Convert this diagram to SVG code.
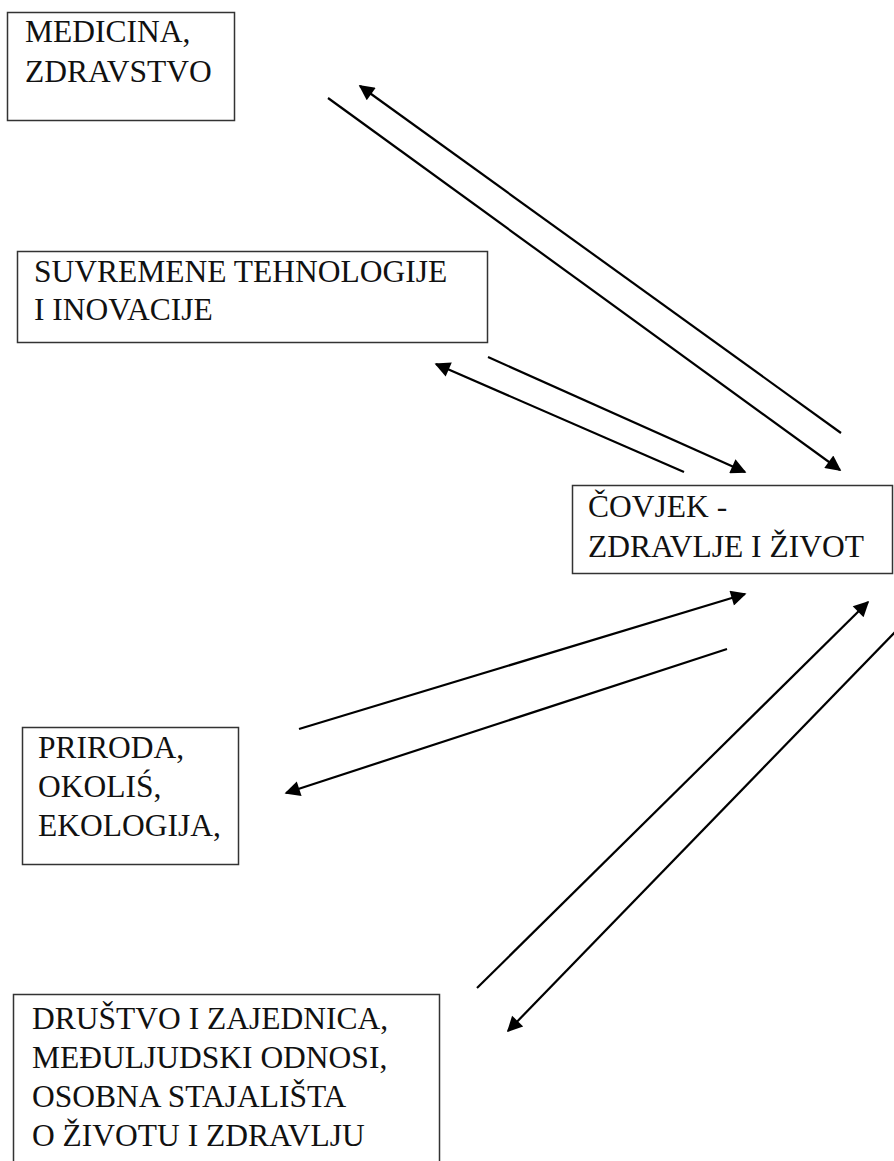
<svg xmlns="http://www.w3.org/2000/svg" width="894" height="1161" viewBox="0 0 894 1161">
<style>
.box{fill:#fff;stroke:#333;stroke-width:1.5}
text{font-family:'Liberation Serif','Times New Roman',serif;font-size:31.5px;fill:#111}
.c{stroke:#000;stroke-width:2.2;fill:none;marker-end:url(#ah)}
</style>
<defs>
<marker id="ah" viewBox="0 0 10 10" refX="9" refY="5" markerWidth="8.5" markerHeight="7" orient="auto" markerUnits="strokeWidth">
<path d="M0,0 L10,5 L0,10 z" fill="#000"/>
</marker>
</defs>
<rect width="894" height="1161" fill="#fff"/>
<g id="n-medicina">
<rect class="box" x="7.5" y="12.5" width="227" height="108"/>
<text x="25" y="42">MEDICINA,</text>
<text x="25" y="82">ZDRAVSTVO</text>
</g>
<g id="n-tehnologije">
<rect class="box" x="17.5" y="251.5" width="470" height="91"/>
<text x="34" y="282">SUVREMENE TEHNOLOGIJE</text>
<text x="34" y="320">I INOVACIJE</text>
</g>
<g id="n-covjek">
<rect class="box" x="572.5" y="485.5" width="320" height="88"/>
<text x="588" y="517">ČOVJEK -</text>
<text x="588" y="557">ZDRAVLJE I ŽIVOT</text>
</g>
<g id="n-priroda">
<rect class="box" x="22.5" y="727.5" width="216" height="137"/>
<text x="38" y="758">PRIRODA,</text>
<text x="38" y="797">OKOLIŚ,</text>
<text x="38" y="836">EKOLOGIJA,</text>
</g>
<g id="n-drustvo">
<rect class="box" x="13.5" y="994.5" width="426" height="190"/>
<text x="32" y="1029">DRUŠTVO I ZAJEDNICA,</text>
<text x="32" y="1068">MEĐULJUDSKI ODNOSI,</text>
<text x="32" y="1107">OSOBNA STAJALIŠTA</text>
<text x="32" y="1146">O ŽIVOTU I ZDRAVLJU</text>
</g>
<g id="connectors">
<line class="c" x1="328" y1="98" x2="840" y2="470"/>
<line class="c" x1="841" y1="433" x2="360" y2="86"/>
<line class="c" x1="488" y1="357" x2="745" y2="472"/>
<line class="c" x1="684" y1="472" x2="436" y2="364"/>
<line class="c" x1="299" y1="729" x2="745" y2="594"/>
<line class="c" x1="727" y1="649" x2="286" y2="793"/>
<line class="c" x1="477" y1="988" x2="868" y2="602"/>
<line class="c" x1="896" y1="631" x2="508" y2="1031"/>
</g>
</svg>
